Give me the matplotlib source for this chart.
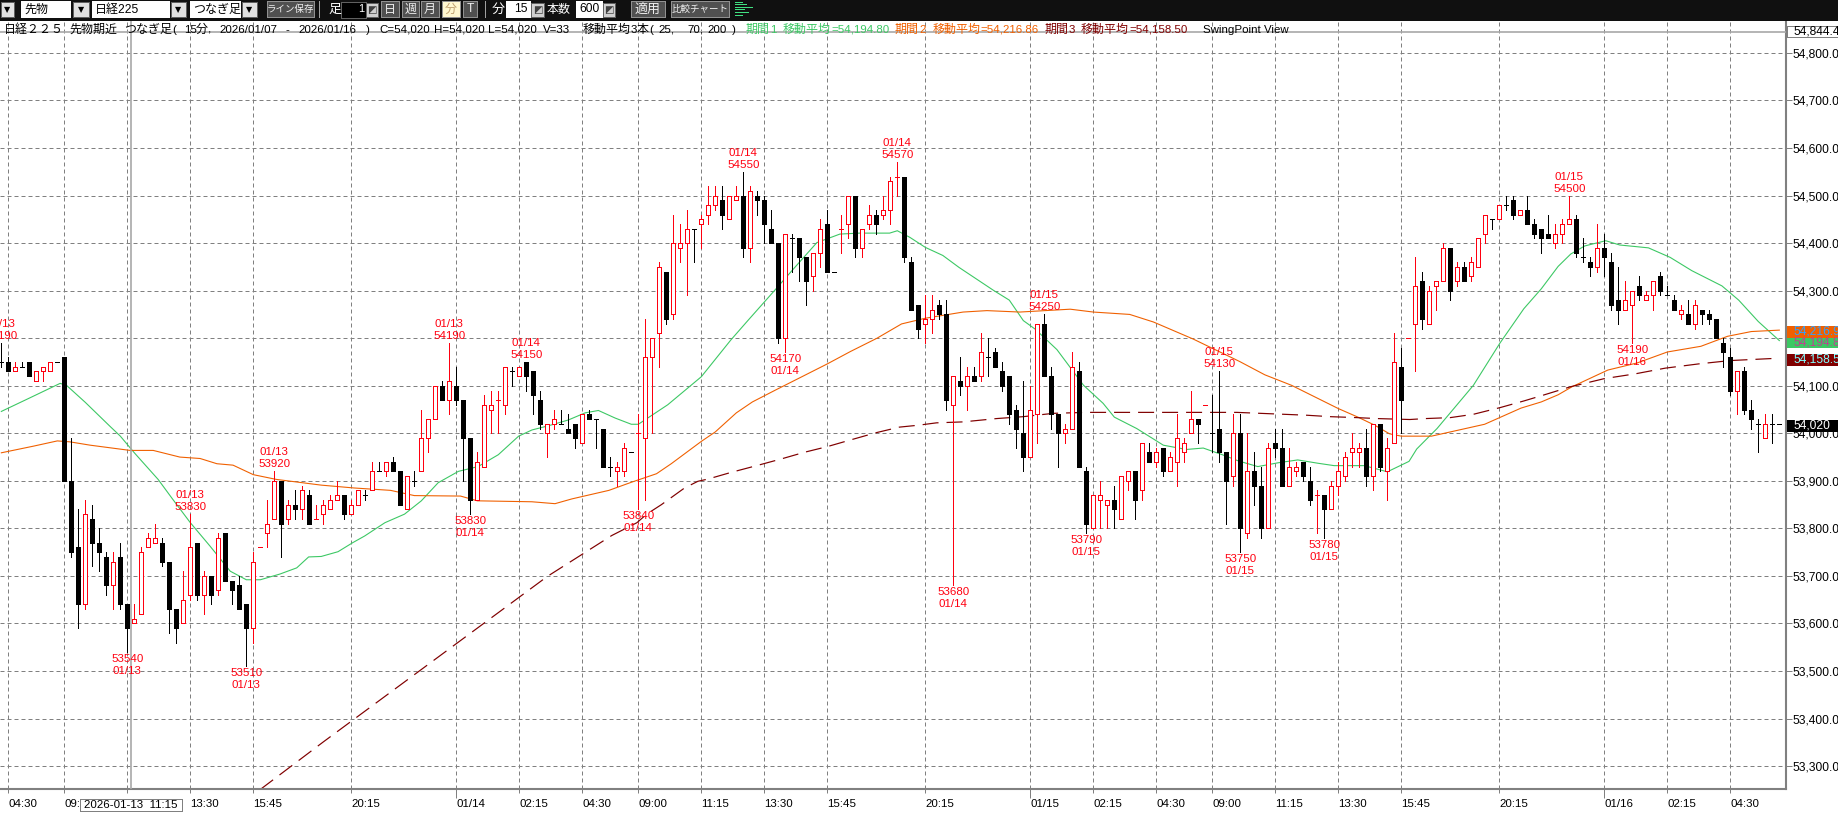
import matplotlib
matplotlib.use("Agg")
import matplotlib.pyplot as plt
import matplotlib.transforms as mt
from matplotlib.patches import Rectangle

# ---------- candle data (15 minute bars, price) ----------
opens = [54150,54150,54130,54140,54150,54110,54130,54130,54150,54160,
         53900,53760,53640,53820,53770,53740,53680,53740,53640,53600,
         53620,53760,53770,53770,53730,53630,53600,53660,53770,53660,
         53700,53670,53790,53690,53680,53640,53590,53760,53790,53820,
         53900,53820,53850,53840,53870,53820,53830,53840,53860,53870,
         53830,53850,53870,53880,53920,53920,53940,53920,53840,53900,
         53920,53990,54030,54100,54070,54100,54070,53990,53860,53930,
         54050,54070,54060,54130,54120,54150,54130,54070,54000,54020,
         54020,54010,54020,53980,54040,54030,54010,53930,53920,53920,
         53960,54000,53990,54160,54210,54340,54250,54390,54400,54430,
         54440,54460,54480,54490,54450,54490,54500,54390,54500,54490,
         54430,54400,54200,54410,54410,54370,54330,54380,54440,54340,
         54430,54440,54500,54390,54440,54460,54460,54470,54540,54540,
         54360,54270,54230,54240,54270,54250,54060,54110,54100,54120,
         54120,54160,54170,54130,54120,54050,54000,53950,54040,54230,
         54120,54040,54000,54010,54130,53920,53800,53860,53850,53860,
         53820,53900,53920,53880,53960,53940,53970,53920,53940,53960,
         54000,54030,54060,54000,54010,53960,53910,54000,53790,53920,
         53890,53800,53980,53970,53890,53920,53940,53900,53870,53870,
         53840,53890,53910,53960,53960,53970,53910,54020,53920,53980,
         54140,54200,54230,54320,54230,54310,54320,54390,54320,54350,
         54330,54350,54420,54450,54450,54480,54490,54460,54470,54440,
         54430,54420,54400,54420,54440,54450,54370,54360,54350,54390,
         54360,54280,54260,54270,54310,54280,54290,54330,54290,54280,
         54250,54250,54230,54260,54250,54240,54190,54160,54090,54130,
         54050,54020,53990,54020,54020]
highs = [54190,54160,54150,54150,54150,54130,54140,54150,54150,54160,
         53990,53840,53860,53850,53800,53750,53750,53770,53640,53640,
         53760,53790,53810,53780,53730,53630,53710,53830,53770,53710,
         53700,53790,53790,53690,53700,53640,53750,53760,53860,53920,
         53900,53860,53880,53890,53880,53850,53860,53870,53900,53870,
         53860,53880,53880,53940,53940,53940,53950,53920,53910,53920,
         54050,54030,54100,54110,54190,54140,54070,53990,53960,54080,
         54090,54090,54140,54140,54140,54150,54130,54090,54020,54050,
         54050,54040,54020,54040,54050,54030,54010,53950,53940,53980,
         53960,54040,54240,54200,54360,54340,54460,54440,54470,54430,
         54460,54520,54520,54520,54500,54520,54550,54520,54510,54500,
         54470,54400,54420,54420,54410,54370,54380,54450,54470,54340,
         54460,54500,54500,54430,54480,54470,54500,54540,54570,54540,
         54370,54270,54290,54290,54280,54280,54120,54160,54140,54140,
         54210,54200,54180,54150,54120,54060,54110,54100,54230,54250,
         54140,54040,54020,54170,54150,53930,53870,53900,53860,53890,
         53910,53920,53920,53980,53980,53970,53970,53960,54040,53990,
         54090,54030,54060,54080,54130,53960,54040,54040,54000,53960,
         53930,53980,54010,54010,53970,53940,53940,53930,53880,53870,
         53900,53940,53960,54000,53980,54010,54020,54020,53990,54210,
         54180,54200,54370,54340,54310,54320,54400,54390,54360,54360,
         54370,54410,54460,54450,54480,54500,54500,54470,54500,54450,
         54430,54460,54440,54450,54500,54460,54410,54370,54440,54420,
         54380,54350,54320,54300,54330,54300,54320,54340,54310,54290,
         54270,54280,54280,54260,54260,54240,54200,54180,54130,54140,
         54070,54030,54040,54040,54020]
lows = [54140,54130,54130,54140,54120,54110,54110,54130,54150,53900,
        53740,53590,53630,53720,53710,53660,53630,53630,53540,53600,
        53620,53760,53770,53720,53580,53560,53600,53650,53650,53620,
        53640,53660,53690,53640,53630,53510,53560,53760,53760,53820,
        53740,53810,53820,53820,53810,53820,53810,53840,53860,53820,
        53830,53850,53860,53880,53920,53910,53920,53850,53840,53890,
        53920,53960,54030,54070,54040,54060,53900,53830,53860,53930,
        54000,54000,54040,54100,54120,54090,54040,54010,53950,54010,
        54020,54000,53970,53980,54030,53970,53930,53910,53890,53910,
        53960,53840,53860,54000,54140,54230,54240,54360,54290,54360,
        54390,54440,54470,54430,54450,54490,54370,54360,54460,54400,
        54400,54190,54170,54340,54320,54270,54300,54350,54340,54340,
        54380,54410,54370,54370,54430,54420,54450,54440,54500,54360,
        54260,54200,54190,54210,54240,54050,53680,54080,54050,54110,
        54110,54120,54140,54090,54020,53970,53920,53950,53980,54120,
        54010,53930,53980,54010,53930,53790,53800,53800,53800,53800,
        53820,53880,53820,53860,53940,53930,53910,53920,53890,53940,
        54000,53980,54060,53960,53940,53810,53890,53750,53780,53850,
        53780,53800,53950,53890,53890,53910,53900,53850,53790,53780,
        53840,53870,53900,53930,53930,53890,53880,53920,53860,53980,
        54000,54200,54130,54220,54230,54260,54320,54280,54310,54320,
        54320,54350,54400,54430,54450,54470,54450,54460,54440,54410,
        54380,54410,54390,54400,54440,54370,54360,54330,54340,54330,
        54260,54230,54260,54190,54280,54280,54260,54290,54290,54260,
        54240,54230,54220,54230,54230,54200,54140,54080,54040,54040,
        54010,53960,53990,53980,54020]
closes = [54150,54130,54140,54140,54120,54130,54140,54150,54150,53900,
          53750,53640,53830,53770,53750,53680,53730,53640,53590,53610,
          53750,53780,53780,53730,53630,53590,53650,53760,53660,53700,
          53660,53780,53690,53670,53630,53590,53730,53760,53810,53900,
          53810,53850,53840,53880,53810,53820,53850,53860,53870,53830,
          53850,53880,53870,53920,53920,53940,53920,53850,53910,53900,
          53990,54030,54100,54070,54110,54070,53990,53860,53940,54060,
          54060,54070,54140,54130,54140,54120,54080,54020,54020,54030,
          54020,54000,53990,54040,54030,54030,53930,53930,53930,53970,
          53960,54000,54160,54200,54350,54240,54400,54400,54430,54430,
          54450,54480,54500,54460,54500,54500,54390,54510,54490,54440,
          54400,54200,54420,54410,54370,54320,54380,54430,54340,54340,
          54430,54500,54390,54430,54460,54440,54470,54530,54540,54370,
          54260,54220,54240,54260,54250,54070,54120,54100,54120,54110,
          54170,54160,54140,54100,54040,54010,53950,54050,54230,54120,
          54040,54000,54010,54140,53930,53810,53870,53870,53860,53840,
          53910,53920,53860,53980,53940,53960,53920,53950,53990,53980,
          54030,54020,54060,54000,53960,53900,54000,53800,53920,53890,
          53800,53970,53970,53890,53930,53930,53910,53860,53870,53840,
          53890,53920,53950,53970,53970,53910,54020,53930,53970,54150,
          54070,54200,54310,54240,54300,54320,54390,54300,54350,54320,
          54360,54410,54460,54450,54480,54480,54460,54470,54440,54420,
          54410,54410,54420,54440,54450,54380,54370,54350,54390,54370,
          54270,54260,54280,54300,54290,54290,54320,54300,54290,54260,
          54260,54230,54270,54250,54240,54200,54170,54090,54130,54050,
          54030,54020,54020,54020,54020]
# flat bars that the chart draws in red (all others: red if closed up)
red_flat_bars = [37, 45, 71, 91, 120, 128, 172, 188, 201]

# ---------- moving averages at selected bars ----------
ma25_bars = [0,4,8.4,9.3,12,15.5,17,19,22.4,24.5,27,29.8,32.7,35,37,39.8,42.2,43.9,45.7,48.1,50.2,51.9,
             54.8,57.6,60,62.4,65.3,68.1,71,73.9,75.8,78.2,81,83.4,85.3,87.7,90,91,95.2,100,104.2,106.7,
             110.5,113,116.5,119.8,122.6,126.9,128,129.8,132,134.5,136.8,141.7,144,146,147.7,150.8,154.6,
             157.4,159,162.2,166,169.3,171.7,174.6,176.7,179.5,182.4,185.2,188.1,190.4,194.7,198,201.1,
             202.2,205.1,207.5,210.3,214.1,217.5,220,222.4,224.2,226.2,229.2,231.2,235.3,238.4,241.5,
             245.8,248.2,251,254]
ma25_vals = [54046,54074,54105,54101,54065,54015,53994,53959,53903,53861,53812,53763,53710,53692,53692,53704,
             53717,53740,53741,53751,53770,53784,53812,53830,53858,53896,53920,53930,53955,53994,54007,54016,
             54028,54043,54048,54032,54019,54019,54060,54119,54196,54238,54301,54343,54401,54419,54421,54421,
             54426,54412,54391,54374,54349,54301,54280,54237,54219,54176,54101,54063,54034,54010,53975,53966,
             53969,53954,53942,53930,53938,53944,53937,53932,53932,53919,53941,53967,54010,54052,54101,54190,
             54262,54304,54351,54377,54394,54405,54396,54390,54370,54342,54310,54280,54235,54195]
ma70_bars = [0,4.6,8,9.8,12.7,18.4,21.7,25.5,28.4,30.8,33.1,36,39.3,45.7,50.4,55.6,59,65.6,68,75.8,79.1,81.5,
             86.8,90,93.6,95.7,100,102,105,107.3,110.6,114.1,118,121.3,125.1,128.6,132,137.4,140.8,145.5,
             152.7,156,161.2,164.6,170.3,176.9,180.5,184.3,191,193.8,196.2,198.3,200,204.3,211.9,217.1,
             220,222.4,224.4,229.5,233.7,238,242.8,246.6,250,254]
ma70_vals = [53959,53973,53984,53982,53975,53964,53964,53950,53947,53936,53933,53913,53903,53891,53885,53880,
             53869,53868,53858,53856,53852,53862,53880,53897,53915,53936,53983,54003,54043,54066,54091,54117,
             54146,54172,54200,54230,54242,54255,54258,54255,54261,54255,54250,54234,54198,54151,54123,54101,
             54052,54034,54017,53999,53994,53994,54019,54053,54066,54081,54098,54133,54148,54171,54183,54204,
             54214,54217]
ma200_bars = [37,46,78,87.2,90.8,92.2,94.3,97.6,99.5,101,104.3,107.9,111.4,114.7,118,121.3,124.9,128.3,131,
              133.6,137.4,142.2,146,150.3,155,165.5,176.5,186.5,189.8,193.6,196.5,201.2,203.5,207,210.3,
              214.1,217.5,220,224.2,229,233.4,237.7,242.5,247,254]
ma200_vals = [53251,53351,53699,53785,53812,53830,53850,53885,53899,53904,53918,53932,53946,53960,53972,53986,
              54001,54013,54017,54022,54024,54031,54035,54042,54044,54044,54044,54038,54035,54033,54031,54029,
              54031,54033,54040,54054,54068,54079,54098,54115,54125,54137,54146,54153,54158]

# ---------- swing point labels ----------
high_bars = [0, 27, 39, 64, 75, 106, 128, 149, 174, 224]
high_prices = [54190, 53830, 53920, 54190, 54150, 54550, 54570, 54250, 54130, 54500]
high_dates = ["01/13", "01/13", "01/13", "01/13", "01/14", "01/14", "01/14", "01/15", "01/15", "01/15"]
low_bars = [18, 35, 67, 91, 112, 136, 155, 177, 189, 233]
low_prices = [53540, 53510, 53830, 53840, 54170, 53680, 53790, 53750, 53780, 54190]
low_dates = ["01/13", "01/13", "01/14", "01/14", "01/14", "01/14", "01/15", "01/15", "01/15", "01/16"]

# ---------- axis labels ----------
time_bars = [1, 9, 18, 27, 36, 50, 65, 74, 83, 91, 100, 109, 118, 132, 147, 156, 165, 173, 182, 191, 200, 214, 229, 238, 247]
time_labels = ["04:30", "09:00", "11:15", "13:30", "15:45", "20:15", "01/14", "02:15", "04:30", "09:00", "11:15",
               "13:30", "15:45", "20:15", "01/15", "02:15", "04:30", "09:00", "11:15", "13:30", "15:45", "20:15",
               "01/16", "02:15", "04:30"]
price_ticks = [53300, 53400, 53500, 53600, 53700, 53800, 53900, 54000, 54100, 54200, 54300, 54400, 54500, 54600, 54700, 54800]
last_price = 54020
ma_last = [54194.8, 54216.86, 54158.5]
cursor_price = 54844.4
cursor_bar = 18.57

assert len(opens) == len(highs) == len(lows) == len(closes) == 255

# ---------- styles ----------
W, H = 1838, 818
RED = "#FF0010"
GREEN = "#3CC864"
ORANGE = "#F06000"
MAROON = "#800000"
GRID = "#808080"
PX = 0.72
plt.rcParams["font.family"] = ["Liberation Sans", "Noto Sans CJK JP", "DejaVu Sans"]
plt.rcParams["lines.scale_dashes"] = False

fig = plt.figure(figsize=(W / 100, H / 100), dpi=100, facecolor="white")
px = mt.Affine2D().scale(1 / W, -1 / H).translate(0, 1) + fig.transFigure


def rect(x0, y0, x1, y1, fc, ec="none", lw=PX, z=10):
    fig.add_artist(Rectangle((x0, y0), x1 - x0, y1 - y0, transform=px, fc=fc, ec=ec, lw=lw, zorder=z, antialiased=False))


def label(x, y, s, color="black", size=12, ha="left", z=12, **kw):
    fig.text(x, y, s, transform=px, color=color, fontsize=size * PX, ha=ha, va="center", zorder=z, **kw)


# chart axes: x px = 1.33 + 7 * bar, y px = 433.3 - 0.4755 * (price - 54000)
top_px, bot_px, right_px = 21.0, 789.3, 1785.7
ax = fig.add_axes([0, 1 - bot_px / H, right_px / W, (bot_px - top_px) / H])
ax.set_xlim(-1.33 / 7, (right_px - 1.33) / 7)
ax.set_ylim(54000 - (bot_px - 433.3) / 0.4755, 54000 + (433.3 - top_px) / 0.4755)

ax.set_axisbelow(True)
ax.grid(True, color=GRID, lw=PX, linestyle=(0, (4 * PX, 3 * PX)))
for side in ("left", "top"):
    ax.spines[side].set_visible(False)
for side in ("right", "bottom"):
    ax.spines[side].set_color(GRID)
    ax.spines[side].set_linewidth(1.5)

ax.yaxis.tick_right()
ax.set_yticks(price_ticks)
ax.set_yticklabels([f"{p:,.1f}" for p in price_ticks])
ax.set_xticks(time_bars)
ax.set_xticklabels(time_labels, ha="left")
ax.tick_params(axis="y", length=6 * PX, width=PX, color=GRID, pad=1 * PX, labelsize=12 * PX, labelcolor="black")
ax.tick_params(axis="x", length=4 * PX, width=PX, color=GRID, pad=6 * PX, labelsize=11.5 * PX, labelcolor="black")
for tick, name in zip(ax.xaxis.get_major_ticks(), time_labels):
    if "/" in name:
        tick.tick1line.set_markersize(9 * PX)

# moving averages under the candles
ax.plot(ma25_bars, ma25_vals, color=GREEN, lw=PX * 1.1, zorder=2)
ax.plot(ma70_bars, ma70_vals, color=ORANGE, lw=PX * 1.1, zorder=2)
ax.plot(ma200_bars, ma200_vals, color=MAROON, lw=PX * 1.2, zorder=2, linestyle=(0, (16 * PX, 8 * PX)))

# candles
bars = list(range(len(opens)))
is_red = [closes[i] > opens[i] or i in red_flat_bars for i in bars]
colors = [RED if r else "black" for r in is_red]
ax.vlines(bars, lows, highs, colors=colors, lw=PX, zorder=3, antialiased=False)
ax.bar(bars, [c - o for o, c in zip(opens, closes)], bottom=opens, width=4 / 7,
       facecolor=["white" if r else "black" for r in is_red], edgecolor=colors, lw=PX, zorder=4, antialiased=False)

# swing points
FS = 11.5 * PX
for b, p, d in zip(high_bars, high_prices, high_dates):
    ax.annotate(p, (b, p), xytext=(0, 7), textcoords="offset pixels", ha="center", va="center",
                color=RED, fontsize=FS, zorder=6, annotation_clip=False)
    ax.annotate(d, (b, p), xytext=(0, 19), textcoords="offset pixels", ha="center", va="center",
                color=RED, fontsize=FS, zorder=6, annotation_clip=False)
for b, p, d in zip(low_bars, low_prices, low_dates):
    ax.annotate(p, (b, p), xytext=(0, -7), textcoords="offset pixels", ha="center", va="center",
                color=RED, fontsize=FS, zorder=6, annotation_clip=False)
    ax.annotate(d, (b, p), xytext=(0, -19), textcoords="offset pixels", ha="center", va="center",
                color=RED, fontsize=FS, zorder=6, annotation_clip=False)

# cursor
ax.axvline(cursor_bar, color="#A8A8A8", lw=1.2, zorder=5)
ax.axhline(cursor_price, color="#A8A8A8", lw=1.2, zorder=5)

# ---------- right-hand value boxes ----------
rect(1787, 25.7, 1838, 36.7, "white", GRID)
label(1793, 31, f"{cursor_price:,.1f}")
rect(1787, 326, 1838, 338, ORANGE)
label(1793, 332, f"{ma_last[1]:,.1f}", color="#30A0FF")
rect(1787, 338, 1838, 348, GREEN)
label(1793, 342.5, f"{ma_last[0]:,.1f}", color="#C04090")
rect(1787, 354, 1838, 366, MAROON)
label(1793, 360, f"{ma_last[2]:,.1f}", color="#80FFFF")
rect(1787, 420, 1838, 432, "black")
label(1793, 426, f"{last_price:,}", color="white")

# cursor date box
rect(80, 799.3, 182, 810.7, "white", GRID)
label(131, 804.5, "2026-01-13  11:15", ha="center", size=11.5)

# ---------- tool bar ----------
rect(0, 0, W, 20.5, "#101010", z=9)


def field(x0, x1, s, ha="left"):
    rect(x0, 1, x1, 18, "white")
    label(x0 + 3 if ha == "left" else x1 - 3, 9.5, s, ha=ha, size=12)


def drop(x0, x1):
    rect(x0, 2, x1, 17, "#E0E0E0", "#606060")
    label((x0 + x1) / 2, 9.5, "▼", ha="center", size=8, family="DejaVu Sans")


def spin(x0, x1):
    rect(x0, 3, x1, 17, "#D0D0D0", "#606060")
    label((x0 + x1) / 2, 10, "◩", ha="center", size=10, family="DejaVu Sans", color="#404040")


def button(x0, x1, s, fc="#505050", color="#F0F0F0", size=12):
    rect(x0, 1, x1, 17, fc, "#909090")
    label((x0 + x1) / 2, 9.5, s, ha="center", color=color, size=size)


drop(1, 14)
field(21, 71, "先物")
drop(73, 89)
field(92, 170, "日経225")
drop(171, 186)
field(190, 241, "つなぎ足")
drop(242, 257)
button(267, 314, "ライン保存", size=9.5)
rect(319, 1, 320, 18, "#A0A0A0")
label(328, 9.5, "足", color="white", size=13)
rect(341, 2, 366, 18, "black", "#606060")
label(364, 9.5, "1", color="white", ha="right", size=11)
spin(366, 378)
button(381, 399, "日")
button(402, 419, "週")
button(421, 439, "月")
button(442, 460, "分", fc="#FFF8D0", color="#C0A070")
button(463, 477, "T")
rect(485, 1, 486, 18, "#A0A0A0")
label(492, 9.5, "分", color="white", size=13)
field(506, 531, "15", ha="right")
spin(531, 544)
label(547, 9.5, "本数", color="white", size=12)
field(576, 603, "600", ha="right")
spin(603, 615)
button(631, 665, "適用", size=13)
button(671, 729, "比較チャート", size=9.5)
for y, length in zip([1.7, 4, 6.7, 9.3, 12.3, 15], [8, 12, 18, 10, 14, 8]):
    rect(735, y, 735 + length, y + 1, "#40E080")

# ---------- header line: CJK runs at 12 px, ASCII runs at 11.5 px ----------
header_cjk = [
    (4, "日経２２５", "black"), (69, "先物期近", "black"), (124.5, "つなぎ足", "black"), (196, "分", "black"),
    (583, "移動平均", "black"), (637, "本", "black"),
    (746, "期間", GREEN), (783, "移動平均", GREEN),
    (895, "期間", ORANGE), (932.5, "移動平均", ORANGE),
    (1045, "期間", MAROON), (1081, "移動平均", MAROON),
]
header_ascii = [
    (172.5, "(", "black"), (184, "15", "black"), (208, ",", "black"),
    (219, "2026/01/07", "black"), (285, "-", "black"), (298, "2026/01/16", "black"), (366, ")", "black"),
    (379.5, "C=54,020", "black"), (434, "H=54,020", "black"), (488, "L=54,020", "black"), (543, "V=33", "black"),
    (631, "3", "black"), (649, "(", "black"), (658, "25,", "black"), (687, "70,", "black"), (707, "200", "black"), (732, ")", "black"),
    (770, "1", GREEN), (831, "=54,194.80", GREEN),
    (919, "2", ORANGE), (980.5, "=54,216.86", ORANGE),
    (1069, "3", MAROON), (1129, "=54,158.50", MAROON),
    (1203, "SwingPoint View", "black"),
]
for x, s, c in header_cjk:
    label(x, 30, s, color=c, size=12)
for x, s, c in header_ascii:
    label(x, 30, s, color=c, size=11.5)

fig.savefig("out.png", dpi=100)
